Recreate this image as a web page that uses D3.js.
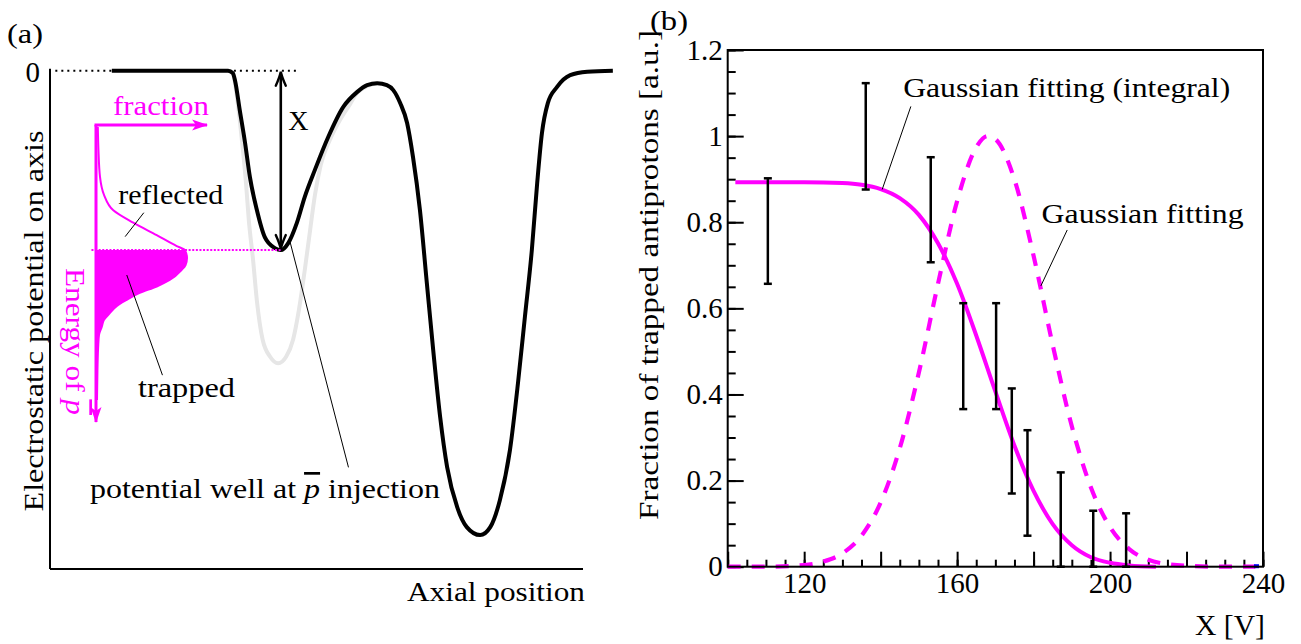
<!DOCTYPE html>
<html><head><meta charset="utf-8">
<script src="https://cdn.jsdelivr.net/npm/d3@7"></script>
<style>
body{margin:0;background:#fff}
svg{display:block}
</style>
</head><body>
<svg id="c" width="1301" height="644" font-family="Liberation Serif"></svg>
<script>
// ---------- Panel (a) data (arbitrary units) ----------
const potPos = [11.6,33.4,34.3,34.7,35.6,36.6,37.5,38.8,40.3,42.2,43.3,44.7,46.3,47.8,49.7,52.2,55.0,57.6,59.5,61.4,63.2,64.4,65.7,67.0,68.1,69.4,70.7,71.9,73.2,74.5,76.4,78.2,80.7,82.6,84.4,86.3,87.8,89.1,90.4,91.4,92.3,93.4,95.1,97.6,100.8,105.6];
const potVal = [0,0,-0.5,-1.9,-7.9,-14.5,-21.3,-27.9,-33.4,-35.6,-36.0,-34.6,-30.6,-25.3,-19.9,-13.3,-7.3,-4.3,-2.9,-2.5,-2.9,-3.9,-6.5,-10.5,-17.3,-27.9,-42.6,-56.1,-69.5,-79.5,-87.6,-91.6,-93.2,-91.6,-86.2,-76.1,-62.7,-49.4,-36.0,-22.6,-12.5,-6.5,-3.3,-0.9,-0.2,0];
const grayPos = [33.4,34.3,34.9,35.6,36.2,36.8,37.3,38.1,38.8,39.9,41.3,42.8,44.3,45.6,46.7,47.8,48.8,49.7,50.8,52.5,54.4,56.3,57.6,61.4];
const grayVal = [0,-0.5,-3.9,-9.9,-15.9,-22.9,-30.0,-38.0,-46.0,-54.0,-57.4,-58.7,-57.4,-54.0,-48.0,-40.0,-32.0,-25.0,-18.9,-13.9,-9.9,-6.7,-4.5,-2.5];
const distEnergy = [-11.3,-15.9,-21.3,-24.9,-28.0,-30.5,-33.0,-35.2,-36.0,-37.6,-39.0,-40.0,-42.0,-43.3,-44.6,-46.0,-47.2,-48.6,-50.0,-51.4,-53.0,-55.0,-60.1,-66.1];
const distFrac   = [0.02,0.027,0.044,0.088,0.19,0.41,0.667,0.887,0.978,1.0,0.984,0.94,0.81,0.667,0.48,0.337,0.23,0.154,0.088,0.063,0.033,0.025,0.016,0.011];
const trapLevel = -36.0;
const wellPos = 43.3;

// ---------- Panel (b) data ----------
const barX    = [110.5,136.1,153.1,161.6,170.2,174.3,178.4,187.1,195.6,204.2];
const barLow  = [0.657,0.876,0.707,0.366,0.366,0.170,0.072,0,0,0];
const barHigh = [0.902,1.123,0.951,0.612,0.612,0.414,0.317,0.219,0.130,0.124];
const gaussX = [100,110,120,125,130,135,140,145,150,155,160,165,168,170,175,180,185,190,195,200,205,210,215,220,230,238];
const gaussY = [0,0,0.004,0.012,0.031,0.072,0.149,0.275,0.451,0.657,0.849,0.974,1.0,0.993,0.899,0.722,0.515,0.326,0.184,0.092,0.041,0.016,0.006,0.002,0,0];
const intX = [102,120,130,135,140,145,150,155,160,165,170,175,180,185,190,195,200,205,212];
const intY = [0.893,0.893,0.891,0.887,0.877,0.856,0.817,0.751,0.657,0.537,0.407,0.281,0.176,0.099,0.050,0.022,0.009,0.003,0];
const yTickValues = [0,0.2,0.4,0.6,0.8,1.0,1.2];
const yTickLabels = ["0","0.2","0.4","0.6","0.8","1","1.2"];
const xTickValues = [120,160,200,240];
const xTickLabels = ["120","160","200","240"];

const MAG = "#ff00ff";
const FONT = "Liberation Serif";
const svg = d3.select("#c");
const defs = svg.append("defs");
defs.append("marker").attr("id","magArrow").attr("markerUnits","userSpaceOnUse")
  .attr("viewBox","-17 -7 19 14").attr("refX",0).attr("refY",0)
  .attr("markerWidth",19).attr("markerHeight",14).attr("orient","auto")
  .append("path").attr("d","M1,0 L-15,-5.5 L-11,0 L-15,5.5 Z").attr("fill",MAG);

// ================= Panel (a) =================
const xA = d3.scaleLinear().domain([0,100]).range([50,583]);
const yA = d3.scaleLinear().domain([0,-100]).range([70.7,569]);
const fS = d3.scaleLinear().domain([0,1]).range([96,187]);
const gA = svg.append("g");

gA.append("line").attr("x1",xA(0)).attr("x2",xA(0)).attr("y1",yA(0)-2).attr("y2",yA(-100)).attr("stroke","#000").attr("stroke-width",2);
gA.append("line").attr("x1",xA(0)).attr("x2",xA(100)).attr("y1",yA(-100)).attr("y2",yA(-100)).attr("stroke","#000").attr("stroke-width",2);

gA.append("line").attr("x1",xA(1)).attr("x2",xA(11.6)).attr("y1",yA(0)).attr("y2",yA(0))
  .attr("stroke","#000").attr("stroke-width",2).attr("stroke-dasharray","2,4");
gA.append("line").attr("x1",xA(34.5)).attr("x2",xA(46.3)).attr("y1",yA(0)).attr("y2",yA(0))
  .attr("stroke","#000").attr("stroke-width",2).attr("stroke-dasharray","2,4");

const lineA = d3.line().x(d=>xA(d[0])).y(d=>yA(d[1])).curve(d3.curveMonotoneX);
gA.append("path").attr("d",lineA(grayPos.map((p,i)=>[p,grayVal[i]])))
  .attr("fill","none").attr("stroke","#e6e6e6").attr("stroke-width",4);
gA.append("path").attr("d",lineA(potPos.map((p,i)=>[p,potVal[i]])))
  .attr("fill","none").attr("stroke","#000").attr("stroke-width",4).attr("stroke-linejoin","round");

gA.append("line").attr("x1",fS(-0.05)).attr("x2",xA(wellPos)).attr("y1",yA(trapLevel)).attr("y2",yA(trapLevel))
  .attr("stroke",MAG).attr("stroke-width",2).attr("stroke-dasharray","2,1.6");

const pts = distEnergy.map((e,i)=>[distFrac[i],e]);
const areaD = d3.area().y(d=>yA(d[1])).x0(fS(0)).x1(d=>fS(d[0])).curve(d3.curveMonotoneY);
gA.append("path").attr("d",areaD(pts.filter(d=>d[1]<=trapLevel))).attr("fill",MAG).attr("stroke","none");
gA.append("path").attr("d",d3.line().x(d=>fS(d[0])).y(d=>yA(d[1])).curve(d3.curveMonotoneY)(pts))
  .attr("fill","none").attr("stroke",MAG).attr("stroke-width",2);

const arrTopE = -10.9, arrBotE = -70.5, arrRightF = 1.22;
gA.append("line").attr("x1",fS(0)).attr("x2",fS(0)).attr("y1",yA(arrTopE)).attr("y2",yA(arrBotE))
  .attr("stroke",MAG).attr("stroke-width",3).attr("marker-end","url(#magArrow)");
gA.append("line").attr("x1",fS(0)-1.5).attr("x2",fS(arrRightF)).attr("y1",yA(arrTopE)).attr("y2",yA(arrTopE))
  .attr("stroke",MAG).attr("stroke-width",3).attr("marker-end","url(#magArrow)");

const ax = xA(wellPos), ay0 = yA(0)+1, ay1 = yA(trapLevel)-1;
gA.append("line").attr("x1",ax).attr("x2",ax).attr("y1",ay0+2).attr("y2",ay1-2).attr("stroke","#000").attr("stroke-width",2.6);
gA.append("path").attr("d",`M${ax-5},${ay0+14} Q${ax-1},${ay0+5} ${ax},${ay0} Q${ax+1},${ay0+5} ${ax+5},${ay0+14}`)
  .attr("fill","none").attr("stroke","#000").attr("stroke-width",2.4).attr("stroke-linecap","round");
gA.append("path").attr("d",`M${ax-5},${ay1-14} Q${ax-1},${ay1-5} ${ax},${ay1} Q${ax+1},${ay1-5} ${ax+5},${ay1-14}`)
  .attr("fill","none").attr("stroke","#000").attr("stroke-width",2.4).attr("stroke-linecap","round");

const leadA = [[[17.6,-28.5],[14.1,-33.3]],[[14.4,-41.0],[21.1,-61.1]],[[45.0,-34.2],[56.0,-79.6]]];
leadA.forEach(l=>gA.append("line").attr("x1",xA(l[0][0])).attr("y1",yA(l[0][1])).attr("x2",xA(l[1][0])).attr("y2",yA(l[1][1]))
  .attr("stroke","#000").attr("stroke-width",1));

function txt(g,x,y,s,size,len,opts={}){
  const t=g.append("text").attr("x",x).attr("y",y).attr("font-size",size).attr("font-family",FONT)
    .style("font-family",FONT).attr("fill",opts.fill||"#000").text(s);
  if(len){t.attr("textLength",len).attr("lengthAdjust","spacingAndGlyphs");}
  if(opts.anchor) t.attr("text-anchor",opts.anchor);
  if(opts.transform) t.attr("transform",opts.transform);
  return t;
}
txt(gA,7,43,"(a)",28,36);
txt(gA,40,yA(0)+11,"0",29,null,{anchor:"end"});
txt(gA,0,0,"Electrostatic potential on axis",27,381,{anchor:"middle",transform:"translate(43,321) rotate(-90)"});
txt(gA,407,601,"Axial position",28,178);
txt(gA,xA(11.8),yA(-8.9),"fraction",28,96,{fill:MAG});
txt(gA,xA(12.8),yA(-26.8),"reflected",27,105);
txt(gA,xA(16.5),yA(-65.5),"trapped",27,97);
txt(gA,xA(44.7),yA(-11.9),"X",28,null);
{
  const t = txt(gA,90,498,"",27,350);
  t.append("tspan").text("potential well at ");
  t.append("tspan").attr("font-style","italic").style("text-decoration","overline").text("p");
  t.append("tspan").text(" injection");
}
{
  const t = txt(gA,0,0,"",27,147,{fill:MAG,transform:"translate(66,268) rotate(90)"});
  t.append("tspan").text("Energy of ");
  t.append("tspan").attr("font-style","italic").style("text-decoration","overline").text("p");
}

// ================= Panel (b) =================
const xB = d3.scaleLinear().domain([100,240]).range([727.7,1263]);
const yB = d3.scaleLinear().domain([0,1.2]).range([566.7,50]);
const gB = svg.append("g");

function styleAxis(g){
  g.select(".domain").remove();
  g.attr("font-family",FONT).attr("font-size",29);
  g.selectAll(".tick line").attr("stroke-width",2);
  g.selectAll(".tick text").style("font-family",FONT).attr("fill","#000");
}
gB.append("g").attr("transform",`translate(0,${yB(0)})`)
  .call(d3.axisBottom(xB).tickValues(d3.range(100,241,5)).tickSize(-7).tickFormat(""))
  .call(styleAxis);
gB.append("g").attr("transform",`translate(0,${yB(0)})`)
  .call(d3.axisBottom(xB).tickValues(d3.range(100,241,20)).tickSize(-15).tickPadding(6)
    .tickFormat(d=>{const i=xTickValues.indexOf(d);return i>=0?xTickLabels[i]:"";}))
  .call(styleAxis);
gB.append("g").attr("transform",`translate(${xB(100)},0)`)
  .call(d3.axisLeft(yB).tickValues(d3.range(0,1.2001,0.05)).tickSize(-8).tickFormat(""))
  .call(styleAxis);
gB.append("g").attr("transform",`translate(${xB(100)},0)`)
  .call(d3.axisLeft(yB).tickValues(yTickValues).tickSize(-16).tickPadding(5).tickFormat((d,i)=>yTickLabels[i]))
  .call(styleAxis);

const lineB = d3.line().x(d=>xB(d[0])).y(d=>yB(d[1])).curve(d3.curveMonotoneX);
gB.append("path").attr("d",lineB(gaussX.map((x,i)=>[x,gaussY[i]])))
  .attr("fill","none").attr("stroke",MAG).attr("stroke-width",4.2).attr("stroke-dasharray","13,11");
gB.append("path").attr("d",lineB(intX.map((x,i)=>[x,intY[i]])))
  .attr("fill","none").attr("stroke",MAG).attr("stroke-width",4);
gB.append("rect").attr("x",xB(238.3)-2.5).attr("y",yB(0)-2.5).attr("width",5).attr("height",4).attr("fill","#0000ff");

barX.forEach((x,i)=>{
  const px=xB(x);
  gB.append("line").attr("x1",px).attr("x2",px).attr("y1",yB(barLow[i])).attr("y2",yB(barHigh[i])).attr("stroke","#000").attr("stroke-width",2.5);
  [barLow[i],barHigh[i]].forEach(v=>gB.append("line").attr("x1",px-4).attr("x2",px+4).attr("y1",yB(v)).attr("y2",yB(v)).attr("stroke","#000").attr("stroke-width",2.5));
});

gB.append("rect").attr("x",xB(100)).attr("y",yB(1.2)).attr("width",xB(240)-xB(100)).attr("height",yB(0)-yB(1.2))
  .attr("fill","none").attr("stroke","#000").attr("stroke-width",2);

const leadB = [[[140.4,0.876],[147.9,1.069]],[[188.8,0.782],[181.9,0.652]]];
leadB.forEach(l=>gB.append("line").attr("x1",xB(l[0][0])).attr("y1",yB(l[0][1])).attr("x2",xB(l[1][0])).attr("y2",yB(l[1][1]))
  .attr("stroke","#000").attr("stroke-width",1));
txt(gB,xB(145.9),yB(1.091),"Gaussian fitting (integral)",28,327);
txt(gB,xB(182.1),yB(0.799),"Gaussian fitting",28,202);
txt(gB,650,30,"(b)",28,38);
txt(gB,0,0,"Fraction of trapped antiprotons [a.u.]",27,490,{anchor:"middle",transform:"translate(658,275) rotate(-90)"});
txt(gB,1195,635,"X [V]",29,70);
</script>
</body></html>
